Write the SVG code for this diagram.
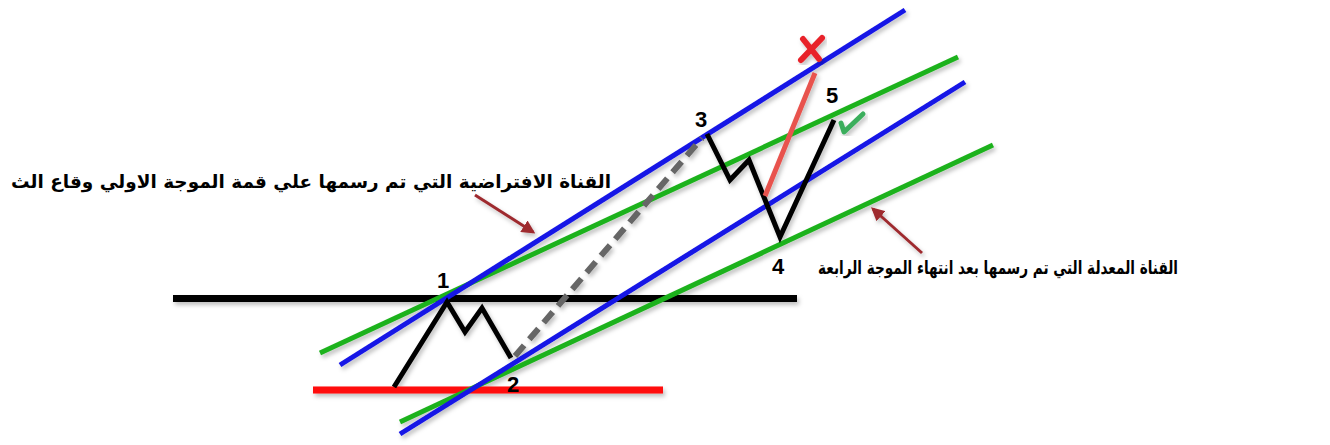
<svg xmlns="http://www.w3.org/2000/svg" width="1330" height="445" viewBox="0 0 1330 445">
<defs>
<style>
.blue{stroke:#1414e6;stroke-width:5;fill:none}
.green{stroke:#1fb21f;stroke-width:5;fill:none}
.wave{stroke:#000;stroke-width:5;fill:none;stroke-linejoin:miter}
.num{font-family:"Liberation Sans",Arial,sans-serif;font-weight:bold;font-size:22px;fill:#000;text-anchor:middle}
.lbl{font-family:"DejaVu Sans","Liberation Sans",sans-serif;font-weight:bold;font-size:18px;fill:#000}
.arrow{stroke:#9e2a2f;stroke-width:3;fill:none}
</style>
<marker id="ah" viewBox="0 0 10 10" refX="8" refY="5" markerWidth="4.5" markerHeight="4.5" orient="auto" markerUnits="strokeWidth">
<path d="M0,0 L10,5 L0,10 z" fill="#9e2a2f"/>
</marker>
<filter id="sh" x="-20%" y="-20%" width="140%" height="140%">
<feDropShadow dx="2" dy="3" stdDeviation="2" flood-color="#000" flood-opacity="0.25"/>
</filter>
</defs>
<rect width="1330" height="445" fill="#fff"/>
<g id="connectors" filter="url(#sh)">
<line id="resistance" x1="173" y1="298.5" x2="797" y2="298.5" stroke="#000" stroke-width="7"/>
<line id="support" x1="313" y1="390" x2="663" y2="390" stroke="#ff0a0a" stroke-width="7"/>
<line class="green" x1="320" y1="353" x2="958" y2="57"/>
<line class="green" x1="400" y1="422" x2="993" y2="145"/>
<line class="blue" x1="340" y1="365" x2="905" y2="10"/>
<line class="blue" x1="400" y1="434" x2="965" y2="82"/>
<line x1="515" y1="356" x2="702" y2="138" stroke="#666" stroke-width="6" stroke-dasharray="14,8"/>
<polyline class="wave" points="394,387 447,302 465,332 482,308 511,358"/>
<polyline class="wave" points="707,134 730,180 749,160 780,237 834,120"/>
<line x1="765" y1="196" x2="815" y2="73" stroke="#e8534e" stroke-width="5"/>
<line class="arrow" x1="475" y1="195" x2="533" y2="232" marker-end="url(#ah)"/>
<line class="arrow" x1="922" y1="253" x2="873" y2="209" marker-end="url(#ah)"/>
</g>
<g id="x-mark" filter="url(#sh)">
<path d="M803,39 L819,59 M822,38 L801,60" stroke="#e8232b" stroke-width="6" stroke-linecap="round" fill="none"/>
</g>
<g id="check-mark" filter="url(#sh)">
<path d="M841,123 L844,132 L863,114" stroke="#3aae5c" stroke-width="5" stroke-linecap="round" stroke-linejoin="round" fill="none"/>
</g>
<g id="n1"><text class="num" x="443" y="288">1</text></g>
<g id="n2"><text class="num" x="513" y="392">2</text></g>
<g id="n3"><text class="num" x="701" y="127">3</text></g>
<g id="n4"><text class="num" x="778" y="274">4</text></g>
<g id="n5"><text class="num" x="832" y="103">5</text></g>
<g id="label-hypothetical"><text class="lbl" x="611" y="188" direction="rtl" text-anchor="start" textLength="600" lengthAdjust="spacingAndGlyphs">القناة الافتراضية التي تم رسمها علي قمة الموجة الاولي وقاع الث</text></g>
<g id="label-modified"><text class="lbl" x="1178" y="274" direction="rtl" text-anchor="start" textLength="360" lengthAdjust="spacingAndGlyphs">القناة المعدلة التي تم رسمها بعد انتهاء الموجة الرابعة</text></g>
</svg>
